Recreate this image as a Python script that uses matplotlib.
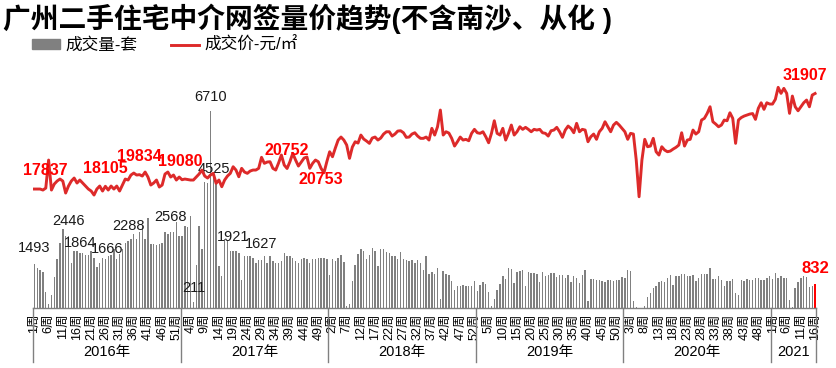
import numpy as np
import matplotlib
matplotlib.use("Agg")
import matplotlib.pyplot as plt
from matplotlib.patches import Patch

plt.rcParams['font.family'] = ['Liberation Sans', 'Noto Sans CJK SC', 'DejaVu Sans']

# ---------------- data ----------------
title = "广州二手住宅中介网签量价趋势(不含南沙、从化 )"
years = ['2016年', '2017年', '2018年', '2019年', '2020年', '2021']
weeks_in_year = [52, 52, 52, 52, 52, 16]
legend_labels = ['成交量-套', '成交价-元/㎡']

volume_2016 = [1493, 1370, 1290, 1220, 560, 120, 450, 1070, 1670, 2210,
               2680, 2450, 2446, 1540, 1940, 1940, 1864, 1860, 1790, 1790,
               1940, 1710, 1390, 1540, 1710, 1666, 1770, 1790, 2000, 1670,
               1820, 2000, 2220, 2288, 2340, 2510, 2340, 2590, 2800, 2340,
               3050, 2170, 2170, 2130, 2170, 2220, 2570, 2510, 2568, 2570,
               2930, 2450]
volume_2017 = [2450, 2800, 2740, 3140, 211, 1445, 2800, 2000, 4300, 4250,
               6710, 4525, 4200, 1420, 1100, 2340, 2280, 1940, 1921, 1940,
               1880, 960, 1770, 1770, 1770, 1710, 1540, 1630, 1627, 1770,
               1540, 1770, 1590, 1540, 1540, 1590, 1880, 1770, 1770, 1710,
               1590, 1540, 1650, 1710, 1650, 1540, 1650, 1650, 1710, 1710,
               1710, 1650]
volume_2018 = [1135, 1651, 1594, 1700, 1800, 1560, 60, 150, 906, 1457,
               1823, 2018, 1926, 1651, 1800, 2030, 1926, 1422, 1995, 2018,
               1903, 1857, 1766, 1766, 1651, 1903, 1651, 1617, 1594, 1628,
               1514, 1617, 1514, 1307, 1766, 1170, 1239, 1170, 1365, 300,
               1273, 1170, 1135, 929, 619, 734, 734, 780, 734, 734,
               734, 929]
volume_2019 = [562, 791, 883, 826, 527, 60, 298, 619, 826, 1101,
               997, 1365, 1330, 849, 1216, 1270, 1307, 757, 1216, 1193,
               1193, 1170, 883, 1227, 1101, 1135, 1193, 1193, 1055, 1124,
               1112, 1021, 1135, 883, 1078, 1021, 849, 1135, 1307, 252,
               986, 986, 963, 940, 906, 883, 940, 940, 929, 940,
               963, 1055]
volume_2020 = [1010, 1307, 1270, 252, 20, 0, 0, 60, 367, 505,
               677, 757, 872, 906, 872, 1020, 1135, 791, 1078, 1078,
               1170, 1160, 1100, 1078, 1135, 906, 1020, 1170, 1170, 1170,
               1365, 997, 997, 1100, 963, 734, 917, 917, 1000, 510,
               453, 945, 906, 997, 945, 945, 1020, 1020, 945, 945,
               1020, 1090]
volume_2021 = [997, 1193, 1020, 1090, 1020, 1020, 275, 40, 680, 880,
               1020, 1100, 1055, 711, 734, 832]

price_2016 = [17695, 17695, 17695, 17547, 17837, 22008, 17547, 18439, 18885, 19182,
              18885, 17101, 18141, 18885, 19331, 18588, 19034, 18588, 18141, 17695,
              17398, 16803, 17695, 18141, 17398, 18105, 17547, 18141, 17695, 18141,
              17398, 18290, 19182, 19034, 19777, 20074, 19777, 19834, 19628, 20223,
              19480, 18290, 18588, 19034, 17993, 18290, 19926, 20223, 19480, 19777,
              19034, 19480]
price_2017 = [19080, 19182, 19108, 19034, 19034, 19480, 19926, 20521, 19628, 19331,
              19777, 20030, 18543, 19034, 18037, 19034, 19628, 20030, 21011, 20521,
              19525, 20773, 20223, 20030, 20372, 20521, 20521, 20773, 22409, 21517,
              21710, 21755, 20773, 20521, 21562, 22751, 21264, 20752, 21755, 23004,
              22008, 21115, 21710, 22305, 22454, 20773, 21517, 22008, 21755, 20753,
              20119, 21755]
price_2018 = [23242, 22498, 23792, 24982, 25428, 24982, 24238, 22260, 23941, 24729,
              24536, 25725, 25130, 24833, 24491, 25279, 25428, 24982, 25279, 25874,
              26216, 26216, 25576, 25874, 26320, 26365, 26067, 25383, 25428, 25874,
              26067, 25576, 25234, 25234, 25428, 24982, 26722, 25725, 26959, 29443,
              25725, 26216, 26023, 25234, 24089, 24729, 25428, 24982, 25086, 24878,
              25978, 26573]
price_2019 = [26067, 25978, 26216, 25472, 24580, 25978, 27852, 25978, 25725, 26722,
              24982, 25978, 27212, 25725, 26216, 26959, 26573, 26870, 26573, 26216,
              26573, 26469, 26573, 26067, 25978, 25576, 26365, 26469, 26870, 26216,
              25383, 26469, 27063, 26722, 26067, 27465, 26216, 26573, 26469, 24729,
              25472, 25874, 25086, 26216, 26722, 27703, 26959, 26216, 27212, 27614,
              27212, 26722]
price_2020 = [26216, 25086, 25978, 25874, 22008, 16550, 22008, 25086, 23985, 24089,
              25234, 23242, 22751, 23985, 23495, 23242, 23346, 23643, 23896, 24238,
              26067, 24089, 24982, 25086, 26469, 25874, 26216, 27956, 28208, 28952,
              29933, 27703, 27361, 26959, 27212, 27956, 27852, 29041, 28208, 24491,
              27956, 28327, 28550, 28699, 28848, 28922, 28060, 29695, 30528, 29547,
              30528, 30335]
price_2021 = [30335, 31034, 32818, 31926, 32670, 31926, 28952, 31524, 29933, 29338,
              29933, 30528, 30930, 29933, 31673, 31907]

# weeks (global index) that carry a data label
price_label_weeks = [4, 25, 37, 52, 89, 101, 275]
volume_label_weeks = [0, 12, 16, 25, 33, 48, 56, 62, 63, 70, 80, 275]

volume = (volume_2016 + volume_2017 + volume_2018 + volume_2019
          + volume_2020 + volume_2021)
price = (price_2016 + price_2017 + price_2018 + price_2019
         + price_2020 + price_2021)
n = len(volume)
x = np.arange(n)
week_labels = [f"{w}周" for k in weeks_in_year for w in range(1, k + 1)]

# ---------------- figure ----------------
W, H = 836, 368
fig = plt.figure(figsize=(W / 100, H / 100), dpi=100)
ax_l, ax_b, ax_t, ax_r = 33, 308, 72.7, 816.5
ax = fig.add_axes([ax_l / W, (H - ax_b) / H, (ax_r - ax_l) / W, (ax_b - ax_t) / H])

bar_colors = ['#808080'] * (n - 1) + ['#ff0000']
bars = ax.bar(x, volume, width=0.5, color=bar_colors, zorder=2)
ax.set_xlim(-0.5, n - 0.5)
ax.set_ylim(0, 8000)
ax.set_yticks([])
for s in ['top', 'right', 'left']:
    ax.spines[s].set_visible(False)
ax.spines['bottom'].set_color('#808080')
ax.spines['bottom'].set_linewidth(1.0)

ax2 = ax.twinx()
line, = ax2.plot(x, price, color='#dd2a2a', lw=2.1, zorder=3, solid_joinstyle='round')
ax2.set_ylim(0, 35000)
ax2.set_yticks([])
for s in ['top', 'right', 'left', 'bottom']:
    ax2.spines[s].set_visible(False)

# x ticks
tick_pos = x[::5]
ax.set_xticks(tick_pos)
ax.set_xticklabels([week_labels[i] for i in tick_pos], rotation=90, fontsize=9)
ax.tick_params(axis='x', length=0, pad=4)

# year groups
bounds = np.cumsum([0] + weeks_in_year) - 0.5
yl_sep = -(362 - ax_b) / (ax_b - ax_t)
yl_txt = -(352 - ax_b) / (ax_b - ax_t)
for b in bounds:
    ax.plot([b, b], [0, yl_sep], transform=ax.get_xaxis_transform(),
            color='#808080', lw=1.0, clip_on=False)
for k, yr in enumerate(years):
    ax.text((bounds[k] + bounds[k + 1]) / 2, yl_txt, yr,
            transform=ax.get_xaxis_transform(), ha='center', va='center', fontsize=10.5)

# data labels
price_offsets = {4: (0, 18), 25: (0, 18), 37: (0, 18), 52: (-2, 18),
                 89: (0, 18), 101: (0, -11), 275: (-10, 18)}
for i in price_label_weeks:
    dx, dy = price_offsets[i]
    ax2.annotate(f"{price[i]}", xy=(i, price[i]), xytext=(dx, dy),
                 textcoords='offset pixels', ha='center', va='center',
                 color='#ff0000', fontsize=11.5, fontweight='bold', annotation_clip=False)
vol_offsets = {0: (0, 16), 12: (0, 15), 16: (0, 10), 25: (2, 10), 33: (0, 15),
               48: (0, 15), 56: (0, 14), 62: (0, 14), 63: (1, 6), 70: (0, 14),
               80: (0, 16), 275: (0, 15)}
for i in volume_label_weeks:
    dx, dy = vol_offsets[i]
    is_last = i == n - 1
    ax.annotate(f"{volume[i]}", xy=(i, volume[i]), xytext=(dx, dy),
                textcoords='offset pixels', ha='center', va='center',
                color='#ff0000' if is_last else '#1a1a1a',
                fontsize=12 if is_last else 10.5,
                fontweight='bold' if is_last else 'normal', annotation_clip=False)

# title and legend
fig.text(3 / W, 1 - 19 / H, title, fontsize=20, fontweight='bold',
         ha='left', va='center', color='black')
fig.legend(handles=[Patch(color='#808080'), line], labels=legend_labels,
           loc='center left', bbox_to_anchor=(32 / W, 1 - 45 / H), ncol=2,
           frameon=False, fontsize=12, handlelength=1.7, handleheight=0.5,
           handletextpad=0.3, columnspacing=2.0, borderaxespad=0, borderpad=0)

fig.savefig('out.png', dpi=100)
